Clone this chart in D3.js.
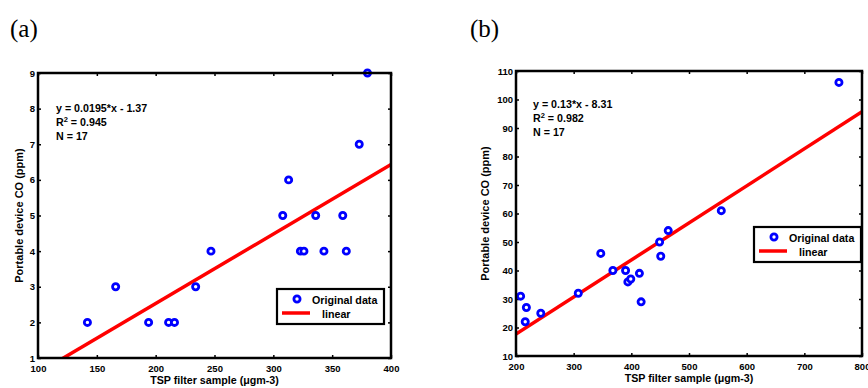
<!DOCTYPE html>
<html>
<head>
<meta charset="utf-8">
<script src="https://cdn.jsdelivr.net/npm/d3@7"></script>
<style>
  body { margin: 0; background: #fff; }
  svg { display: block; }
  .sans { font-family: "Liberation Sans", Arial, sans-serif; font-weight: bold; }
</style>
</head>
<body>
<svg width="868" height="388"></svg>
<script>
const svg = d3.select('svg')

// panel (a)
const tspA = [142, 166, 194, 211, 216, 234, 247, 308, 313, 323, 326, 336, 343, 359, 362, 373, 380]
const coA  = [2, 3, 2, 2, 2, 3, 4, 5, 6, 4, 4, 5, 4, 5, 4, 7, 9]
const fitA = { slope: 0.0195, intercept: -1.37 }
const ticksXA = [100, 150, 200, 250, 300, 350, 400]
const ticksYA = [1, 2, 3, 4, 5, 6, 7, 8, 9]
const statsA = ['y = 0.0195*x - 1.37', '0.945', 'N = 17']

// panel (b)
const tspB = [208, 218, 216, 243, 308, 347, 368, 390, 394, 399, 414, 417, 449, 451, 464, 556, 760]
const coB  = [31, 27, 22, 25, 32, 46, 40, 40, 36, 37, 39, 29, 50, 45, 54, 61, 106]
const fitB = { slope: 0.13, intercept: -8.31 }
const ticksXB = [200, 300, 400, 500, 600, 700, 800]
const ticksYB = [10, 20, 30, 40, 50, 60, 70, 80, 90, 100, 110]
const statsB = ['y = 0.13*x - 8.31', '0.982', 'N = 17']

const scatterPanel = (selection, props) => {
    const {
        id, xs, ys, fit, ticksX, ticksY, stats,
        box, legendPos, statsPos, ylabelX, xlabelY
    } = props
    const { left, right, top, bottom } = box

    selection.attr('class', 'sans')

    const x = d3.scaleLinear()
        .domain(d3.extent(ticksX))
        .range([left, right])
    const y = d3.scaleLinear()
        .domain(d3.extent(ticksY))
        .range([bottom, top])

    selection.append('clipPath')
        .attr('id', id)
      .append('rect')
        .attr('x', left).attr('y', top)
        .attr('width', right - left).attr('height', bottom - top)

    // axes with inward ticks on all four sides
    const styleAxis = g => {
        g.select('.domain').remove()
        g.attr('font-family', null)
        g.selectAll('line').attr('stroke', '#000').attr('stroke-width', 1.5)
        g.selectAll('text').attr('font-size', 9.5).attr('fill', '#000')
    }
    selection.append('g')
        .attr('transform', `translate(0,${bottom})`)
        .call(d3.axisBottom(x).tickValues(ticksX).tickSize(-3).tickPadding(7))
        .call(styleAxis)
    selection.append('g')
        .attr('transform', `translate(0,${top})`)
        .call(d3.axisTop(x).tickValues(ticksX).tickSize(-3).tickFormat(''))
        .call(styleAxis)
    selection.append('g')
        .attr('transform', `translate(${left},0)`)
        .call(d3.axisLeft(y).tickValues(ticksY).tickSize(-3).tickPadding(3))
        .call(styleAxis)
    selection.append('g')
        .attr('transform', `translate(${right},0)`)
        .call(d3.axisRight(y).tickValues(ticksY).tickSize(-3).tickFormat(''))
        .call(styleAxis)

    // fit line
    const xd = x.domain()
    selection.append('line')
        .attr('clip-path', `url(#${id})`)
        .attr('x1', x(xd[0])).attr('y1', y(fit.slope * xd[0] + fit.intercept))
        .attr('x2', x(xd[1])).attr('y2', y(fit.slope * xd[1] + fit.intercept))
        .attr('stroke', '#ff0000')
        .attr('stroke-width', 3.5)

    // data points
    selection.append('g')
        .selectAll('circle')
        .data(xs.map((d, i) => [d, ys[i]]))
        .join('circle')
            .attr('cx', d => x(d[0]))
            .attr('cy', d => y(d[1]))
            .attr('r', 3.1)
            .attr('fill', '#fff')
            .attr('stroke', '#0000ff')
            .attr('stroke-width', 2.8)

    // frame
    selection.append('rect')
        .attr('x', left).attr('y', top)
        .attr('width', right - left).attr('height', bottom - top)
        .attr('fill', 'none')
        .attr('stroke', '#000')
        .attr('stroke-width', 2.5)

    // stats text
    const st = selection.append('text')
        .attr('x', statsPos[0]).attr('y', statsPos[1])
        .attr('font-size', 10.7)
    st.append('tspan').attr('x', statsPos[0]).text(stats[0])
    const r2 = st.append('tspan').attr('x', statsPos[0]).attr('dy', 14)
    r2.append('tspan').text('R')
    r2.append('tspan').attr('dy', -4).attr('font-size', 7.5).text('2')
    r2.append('tspan').attr('dy', 4).text(' = ' + stats[1])
    st.append('tspan').attr('x', statsPos[0]).attr('dy', 13.5).text(stats[2])

    // axis labels
    selection.append('text')
        .attr('x', (left + right) / 2).attr('y', xlabelY)
        .attr('text-anchor', 'middle')
        .attr('font-size', 10.7)
        .text('TSP filter sample (\u03bcgm-3)')
    selection.append('text')
        .attr('transform', `translate(${ylabelX},${(top + bottom) / 2}) rotate(-90)`)
        .attr('text-anchor', 'middle')
        .attr('font-size', 11)
        .text('Portable device CO (ppm)')

    // legend
    const [lx, ly] = legendPos
    const lg = selection.append('g').attr('transform', `translate(${lx},${ly})`)
    lg.append('rect')
        .attr('width', 107).attr('height', 35)
        .attr('fill', '#fff')
        .attr('stroke', '#000')
        .attr('stroke-width', 2.2)
    lg.append('circle')
        .attr('cx', 20).attr('cy', 10).attr('r', 3.1)
        .attr('fill', '#fff').attr('stroke', '#0000ff').attr('stroke-width', 2.8)
    lg.append('text').attr('x', 35).attr('y', 14.5).attr('font-size', 10.7).text('Original data')
    lg.append('line')
        .attr('x1', 5).attr('x2', 33).attr('y1', 24).attr('y2', 24)
        .attr('stroke', '#ff0000').attr('stroke-width', 3.5)
    lg.append('text').attr('x', 45).attr('y', 28.5).attr('font-size', 10.7).text('linear')
}

svg.append('g').call(scatterPanel, {
    id: 'clipA', xs: tspA, ys: coA, fit: fitA,
    ticksX: ticksXA, ticksY: ticksYA, stats: statsA,
    box: { left: 38, right: 391, top: 73, bottom: 358 },
    legendPos: [277, 289], statsPos: [56, 112], ylabelX: 23, xlabelY: 384
})

svg.append('g').call(scatterPanel, {
    id: 'clipB', xs: tspB, ys: coB, fit: fitB,
    ticksX: ticksXB, ticksY: ticksYB, stats: statsB,
    box: { left: 516, right: 862, top: 71, bottom: 356 },
    legendPos: [754, 227], statsPos: [533, 108], ylabelX: 489, xlabelY: 382
})

// panel letters
const letter = (x, label) => svg.append('text')
    .attr('x', x).attr('y', 37)
    .style('font-family', '"Liberation Serif", "Times New Roman", serif')
    .style('font-weight', 'normal')
    .attr('font-size', 25)
    .text(label)
letter(10, '(a)')
letter(470, '(b)')
</script>
</body>
</html>
